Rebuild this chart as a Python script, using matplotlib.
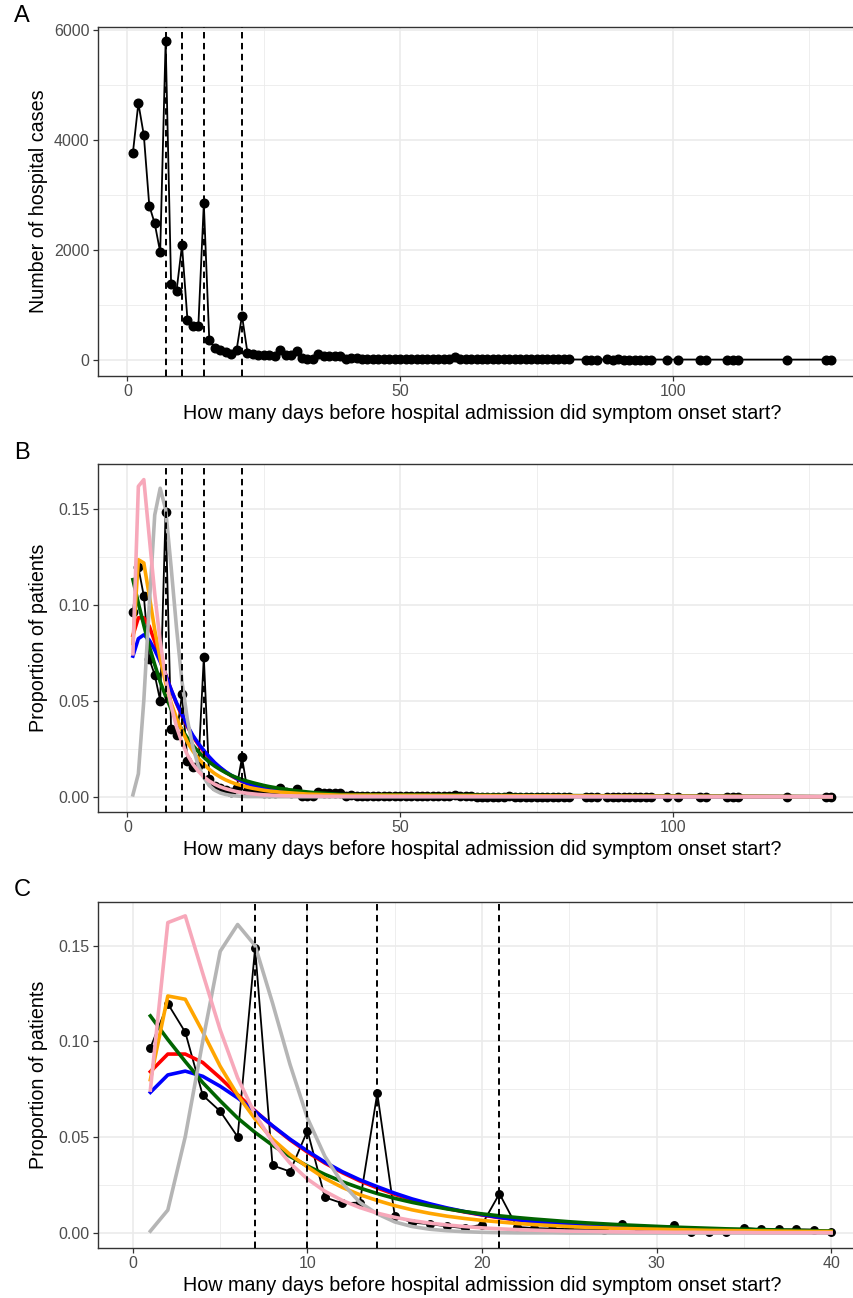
import numpy as np
import matplotlib
matplotlib.use('Agg')
import matplotlib.pyplot as plt
from matplotlib.ticker import MultipleLocator, FormatStrFormatter

plt.rcParams['font.family'] = ['Liberation Sans', 'DejaVu Sans']

# ---- data ----
# days before admission that have cases
days = list(range(1, 81)) + [81, 84, 85, 86, 88, 89, 90, 91, 92, 93, 94, 95, 96,
                             99, 101, 105, 106, 110, 111, 112, 121, 128, 129]
cases = [3760, 4660, 4080, 2800, 2475, 1955, 5790, 1375, 1250, 2080,
         725, 605, 620, 2840, 355, 212, 182, 136, 100, 172,
         800, 125, 100, 90, 80, 80, 70, 175, 90, 80,
         160, 25, 20, 20, 105, 75, 75, 75, 70, 20,
         30, 25, 20, 20, 18, 15, 15, 14, 12, 15,
         10, 10, 9, 8, 10, 8, 7, 7, 6, 40,
         8, 6, 6, 5, 5, 5, 4, 4, 4, 6,
         4, 3, 3, 3, 4, 3, 3, 3, 3, 4,
         3, 2, 2, 2, 3, 2, 3, 2, 2, 2, 2, 2, 2, 2, 2, 2, 1, 1, 1, 1, 1, 1, 2]

# fitted distributions, days 1..40 plus the last day
fit_days = list(range(1, 41)) + [129]
fit_red = [0.0842, 0.0934, 0.0934, 0.0890, 0.0810, 0.0722, 0.0638, 0.0558, 0.0486, 0.0422,
           0.0365, 0.0315, 0.0272, 0.0235, 0.0202, 0.0173, 0.0149, 0.0128, 0.0110, 0.0094,
           0.0080, 0.0069, 0.0059, 0.0050, 0.0043, 0.0037, 0.0031, 0.0027, 0.0023, 0.0020,
           0.0017, 0.0014, 0.0012, 0.0010, 0.0009, 0.0008, 0.0007, 0.0006, 0.0005, 0.0004, 0.0]
fit_blue = [0.0734, 0.0825, 0.0845, 0.0818, 0.0766, 0.0705, 0.0635, 0.0560, 0.0490, 0.0428,
            0.0370, 0.0320, 0.0278, 0.0242, 0.0208, 0.0178, 0.0153, 0.0131, 0.0112, 0.0096,
            0.0082, 0.0070, 0.0060, 0.0051, 0.0044, 0.0037, 0.0032, 0.0027, 0.0023, 0.0020,
            0.0017, 0.0014, 0.0012, 0.0010, 0.0009, 0.0008, 0.0007, 0.0006, 0.0005, 0.0004, 0.0]
fit_green = [0.1133, 0.1010, 0.0895, 0.0785, 0.0690, 0.0600, 0.0525, 0.0458, 0.0400, 0.0350,
             0.0306, 0.0268, 0.0235, 0.0206, 0.0181, 0.0160, 0.0142, 0.0126, 0.0112, 0.0100,
             0.0090, 0.0081, 0.0073, 0.0066, 0.0059, 0.0053, 0.0048, 0.0043, 0.0039, 0.0035,
             0.0031, 0.0028, 0.0025, 0.0022, 0.0020, 0.0018, 0.0016, 0.0014, 0.0012, 0.0011, 0.0]
fit_orange = [0.0800, 0.1237, 0.1220, 0.1050, 0.0870, 0.0720, 0.0595, 0.0490, 0.0410, 0.0345,
              0.0285, 0.0238, 0.0200, 0.0170, 0.0143, 0.0121, 0.0103, 0.0088, 0.0076, 0.0066,
              0.0058, 0.0050, 0.0044, 0.0039, 0.0034, 0.0030, 0.0027, 0.0024, 0.0022, 0.0020,
              0.0018, 0.0016, 0.0014, 0.0013, 0.0012, 0.0011, 0.0010, 0.0009, 0.0008, 0.0008, 0.0]
fit_pink = [0.0746, 0.1620, 0.1655, 0.1355, 0.1060, 0.0810, 0.0620, 0.0475, 0.0365, 0.0282,
            0.0218, 0.0170, 0.0133, 0.0104, 0.0082, 0.0065, 0.0052, 0.0042, 0.0034, 0.0027,
            0.0022, 0.0018, 0.0015, 0.0012, 0.0010, 0.0009, 0.0007, 0.0006, 0.0005, 0.0005,
            0.0004, 0.0004, 0.0003, 0.0003, 0.0003, 0.0002, 0.0002, 0.0002, 0.0002, 0.0002, 0.0]
fit_grey = [0.0010, 0.0120, 0.0503, 0.1000, 0.1470, 0.1610, 0.1500, 0.1200, 0.0880, 0.0600,
            0.0400, 0.0260, 0.0160, 0.0100, 0.0058, 0.0034, 0.0020, 0.0012, 0.0007, 0.0004,
            0.0002, 0.0001, 0.0001, 0.0001, 0.0, 0.0, 0.0, 0.0, 0.0, 0.0,
            0.0, 0.0, 0.0, 0.0, 0.0, 0.0, 0.0, 0.0, 0.0, 0.0, 0.0]

vline_days = [7, 10, 14, 21]
xtitle = 'How many days before hospital admission did symptom onset start?'

# draw order: pink ends up on top
fits = [(fit_red, '#FF0000'), (fit_blue, '#0000FF'), (fit_green, '#006400'),
        (fit_orange, '#FFA500'), (fit_grey, '#B5B5B5'), (fit_pink, '#F7A8BA')]

days = np.array(days)
cases = np.array(cases, dtype=float)
prop = cases / cases.sum()
fit_days = np.array(fit_days)

# ---- figure ----
W, H = 854, 1298
fig = plt.figure(figsize=(W / 100, H / 100), dpi=100)


def px_axes(left, top, right, bottom):
    return fig.add_axes([left / W, 1 - bottom / H, (right - left) / W, (bottom - top) / H])


def theme_bw(ax, xmaj, xmin, ymaj, ymin):
    ax.xaxis.set_major_locator(MultipleLocator(xmaj))
    ax.xaxis.set_minor_locator(MultipleLocator(xmin))
    ax.yaxis.set_major_locator(MultipleLocator(ymaj))
    ax.yaxis.set_minor_locator(MultipleLocator(ymin))
    ax.grid(which='major', color='#EBEBEB', lw=1.2)
    ax.grid(which='minor', color='#EBEBEB', lw=0.6)
    ax.set_axisbelow(True)
    for s in ax.spines.values():
        s.set_color('#333333')
        s.set_linewidth(1.0)
    ax.tick_params(which='major', length=3.6, width=0.9, color='#333333',
                   labelsize=11.5, labelcolor='#4D4D4D', pad=2.5)
    ax.tick_params(which='minor', length=0)
    ax.set_xlabel(xtitle, fontsize=14.2, labelpad=3.5)


def vlines(ax):
    for d in vline_days:
        ax.axvline(d, color='black', lw=1.4, ls=(0, (3.3, 2.3)), zorder=5)


# panel A
axA = px_axes(98, 27.3, 866, 375.5)
axA.plot(days, cases, color='black', lw=1.3, marker='o', ms=6.2, zorder=3)
vlines(axA)
axA.set_xlim(-5.4, 135.4)
axA.set_ylim(-288, 6040)
theme_bw(axA, 50, 25, 2000, 1000)

# panel B
axB = px_axes(98, 464.3, 866, 811.7)
axB.plot(days, prop, color='black', lw=1.3, marker='o', ms=6.0, zorder=3)
for vals, col in fits:
    axB.plot(fit_days, vals, color=col, lw=2.6, zorder=4)
vlines(axB)
axB.set_xlim(-5.4, 135.4)
axB.set_ylim(-0.0078, 0.1735)
theme_bw(axB, 50, 25, 0.05, 0.025)
axB.yaxis.set_major_formatter(FormatStrFormatter('%.2f'))

# panel C
keep = days <= 40
axC = px_axes(98, 901.7, 866, 1248)
axC.plot(days[keep], prop[keep], color='black', lw=1.3, marker='o', ms=5.4, zorder=3)
for vals, col in fits:
    axC.plot(fit_days[:40], vals[:40], color=col, lw=2.6, zorder=4)
vlines(axC)
axC.set_xlim(-2, 42)
axC.set_ylim(-0.0078, 0.1729)
theme_bw(axC, 10, 5, 0.05, 0.025)
axC.yaxis.set_major_formatter(FormatStrFormatter('%.2f'))

# y titles, aligned across panels
fig.text(38.3 / W, 1 - 201.4 / H, 'Number of hospital cases', rotation=90,
         fontsize=14.2, ha='center', va='center')
fig.text(38.3 / W, 1 - 638 / H, 'Proportion of patients', rotation=90,
         fontsize=14.2, ha='center', va='center')
fig.text(38.3 / W, 1 - 1075 / H, 'Proportion of patients', rotation=90,
         fontsize=14.2, ha='center', va='center')

# panel tags
for lab, yy in [('A', 16), ('B', 453), ('C', 890.4)]:
    fig.text(22 / W, 1 - yy / H, lab, fontsize=17, ha='center', va='center')

fig.savefig('out.png', dpi=100)
